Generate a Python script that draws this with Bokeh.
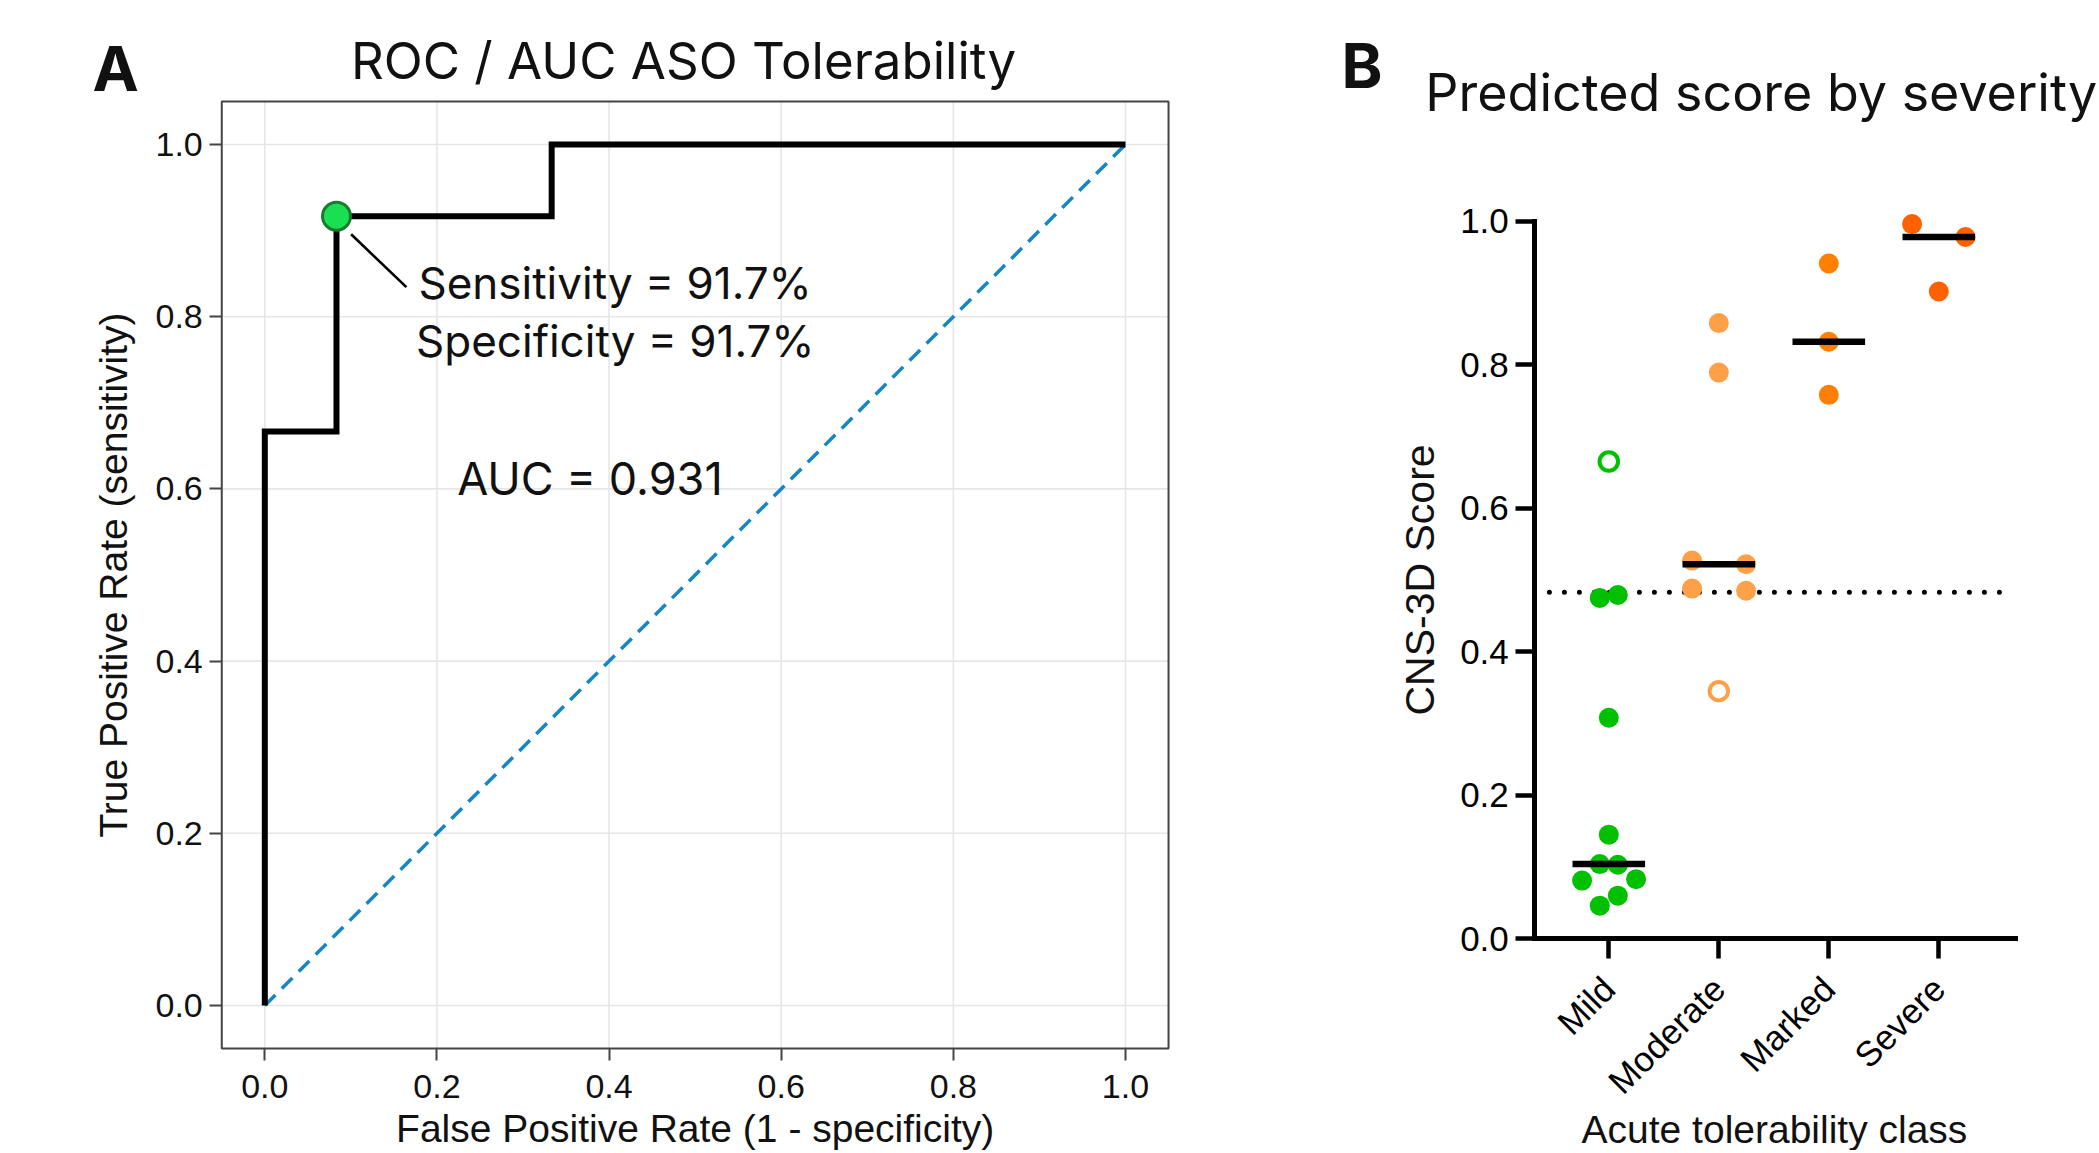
import numpy as np
from math import pi
from bokeh.plotting import figure
from bokeh.layouts import row
from bokeh.models import Range1d, FixedTicker, Label, LinearAxis, NumeralTickFormatter
from bokeh.embed import file_html
from bokeh.resources import INLINE

# ---------------- Panel A data ----------------
roc_fpr = [0.0, 0.0, 0.0833, 0.0833, 0.3333, 0.3333, 1.0]
roc_tpr = [0.0, 0.6667, 0.6667, 0.9167, 0.9167, 1.0, 1.0]
chance_x = [0.0, 1.0]
chance_y = [0.0, 1.0]
opt_fpr = [0.0833]
opt_tpr = [0.9167]
sensitivity_pct = 91.7
specificity_pct = 91.7
auc_value = 0.931
roc_ticks = [0.0, 0.2, 0.4, 0.6, 0.8, 1.0]
roc_limits = (-0.05, 1.05)

# ---------------- Panel B data ----------------
categories = ["Mild", "Moderate", "Marked", "Severe"]
mild_scores = [0.665, 0.479, 0.475, 0.308, 0.145, 0.104, 0.103, 0.083, 0.081, 0.060, 0.046]
mild_xpos = [0.0, 0.082, -0.082, 0.0, 0.0, -0.082, 0.082, 0.248, -0.243, 0.082, -0.082]
mild_open = [True, False, False, False, False, False, False, False, False, False, False]
moderate_scores = [0.858, 0.789, 0.527, 0.522, 0.488, 0.485, 0.345]
moderate_xpos = [0.0, 0.0, -0.243, 0.248, -0.243, 0.248, 0.0]
moderate_open = [False, False, False, False, False, False, True]
marked_scores = [0.941, 0.832, 0.758]
marked_xpos = [0.0, 0.0, 0.0]
marked_open = [False, False, False]
severe_scores = [0.996, 0.978, 0.902]
severe_xpos = [-0.243, 0.243, 0.0]
severe_open = [False, False, False]
threshold = 0.483
score_ticks = [0.0, 0.2, 0.4, 0.6, 0.8, 1.0]
cat_limits = (-0.6727, 3.6973)

group_colors = ["#00c000", "#fda048", "#ff8000", "#ff6100"]

TEXT_FONT = "Inter"
AXIS_FONT = "Liberation Sans"
H = 1150


def lab(p, x, y, text, size, font=TEXT_FONT, align="left", angle=0.0, style="normal", color="#111111"):
    shift = 0.4 * size
    if angle == 0.0:
        xo, yo = 0.0, shift
    else:
        xo, yo = -shift, 0.0
    p.add_layout(Label(x=x, y=y, text=text, text_font=font, text_font_size=f"{size}px",
                       text_align=align, text_baseline="alphabetic", angle=angle,
                       x_offset=xo, y_offset=yo,
                       text_font_style=style, text_color=color))


# ================= Panel A =================
W1 = 1300
p1 = figure(width=W1, height=H, output_backend="svg", toolbar_location=None,
            x_axis_location=None, y_axis_location=None, min_border=0,
            x_range=Range1d(-264.3 / 860.7, (W1 - 264.3) / 860.7),
            y_range=Range1d((1005 - H) / 861.0, 1005 / 861.0))
p1.outline_line_color = None
for g in p1.grid:
    g.visible = False

lo, hi = roc_limits
n = len(roc_ticks)
p1.segment(x0=roc_ticks, y0=[lo] * n, x1=roc_ticks, y1=[hi] * n, line_color="#e6e6e6", line_width=1.6)
p1.segment(x0=[lo] * n, y0=roc_ticks, x1=[hi] * n, y1=roc_ticks, line_color="#e6e6e6", line_width=1.6)
p1.quad(left=[lo], right=[hi], bottom=[lo], top=[hi], fill_color=None,
        line_color="#444444", line_width=2)

xa = LinearAxis(fixed_location=lo)
ya = LinearAxis(fixed_location=lo)
p1.add_layout(xa, "below")
p1.add_layout(ya, "left")
for ax in (xa, ya):
    ax.ticker = FixedTicker(ticks=roc_ticks)
    ax.formatter = NumeralTickFormatter(format="0.0")
    ax.axis_line_color = None
    ax.major_tick_out = 12
    ax.major_tick_in = 0
    ax.minor_tick_line_color = None
    ax.major_tick_line_color = "#444444"
    ax.major_tick_line_width = 2
    ax.major_label_text_font = AXIS_FONT
    ax.major_label_text_font_size = "34px"
    ax.major_label_text_color = "#111111"
xa.major_label_standoff = 14
ya.major_label_standoff = 7

p1.line(chance_x, chance_y, line_color="#1585c6", line_width=3.5, line_dash="15 9")
p1.line(roc_fpr, roc_tpr, line_color="black", line_width=6, line_join="miter")

sens_x, sens_y = 0.1785, 0.8183
lead_x = [opt_fpr[0] + 0.017, sens_x - 0.014]
lead_y = [opt_tpr[0] - 0.021, sens_y + 0.016]
p1.line(lead_x, lead_y, line_color="black", line_width=2.6)
p1.scatter(opt_fpr, opt_tpr, size=28, fill_color="#19e050", line_color="#1b7a2e", line_width=3)

lab(p1, sens_x, sens_y, f"Sensitivity = {sensitivity_pct}%", 44)
lab(p1, 0.1757, 0.7514, f"Specificity = {specificity_pct}%", 44)
lab(p1, 0.2235, 0.591, f"AUC = {auc_value}", 45)
lab(p1, 0.4865, 1.074, "ROC / AUC ASO Tolerability", 51, align="center")
lab(p1, -0.2002, 1.059, "A", 62, style="bold")
lab(p1, -0.158, 0.5, "True Positive Rate (sensitivity)", 39, font=AXIS_FONT, align="center", angle=pi / 2)
lab(p1, 0.5, -0.1613, "False Positive Rate (1 - specificity)", 39, font=AXIS_FONT, align="center")

# ================= Panel B =================
W2 = 799
x0px = 1608.3 - W1
p2 = figure(width=W2, height=H, output_backend="svg", toolbar_location=None,
            x_axis_location=None, y_axis_location=None, min_border=0,
            x_range=Range1d(-x0px / 110.0, (W2 - x0px) / 110.0),
            y_range=Range1d((938.2 - H) / 717.5, 938.2 / 717.5))
p2.outline_line_color = None
for g in p2.grid:
    g.visible = False

cat_idx = list(range(len(categories)))
bxa = LinearAxis(fixed_location=0.0, bounds=cat_limits)
bya = LinearAxis(fixed_location=cat_limits[0], bounds=(0, 1))
p2.add_layout(bxa, "below")
p2.add_layout(bya, "left")
for ax in (bxa, bya):
    ax.axis_line_color = "black"
    ax.axis_line_width = 5
    ax.axis_line_cap = "square"
    ax.major_tick_line_color = "black"
    ax.major_tick_line_width = 4.5
    ax.major_tick_in = 0
    ax.minor_tick_line_color = None
    ax.major_label_text_font = AXIS_FONT
    ax.major_label_text_font_size = "35px"
    ax.major_label_text_color = "black"
bya.ticker = FixedTicker(ticks=score_ticks)
bya.formatter = NumeralTickFormatter(format="0.0")
bya.major_tick_out = 19
bya.major_label_standoff = 7
bxa.ticker = FixedTicker(ticks=cat_idx)
bxa.major_label_overrides = {i: c for i, c in zip(cat_idx, categories)}
bxa.major_label_orientation = pi / 4
bxa.major_tick_out = 20
bxa.major_label_standoff = 24

# threshold dotted line
p2.line([-0.54, 3.60], [threshold, threshold], line_color="black", line_width=5,
        line_dash="0 15", line_cap="round")

groups = [(mild_scores, mild_xpos, mild_open),
          (moderate_scores, moderate_xpos, moderate_open),
          (marked_scores, marked_xpos, marked_open),
          (severe_scores, severe_xpos, severe_open)]
for gi, (scores, xpos, opens) in enumerate(groups):
    col = group_colors[gi]
    fx = [gi + o for o, h in zip(xpos, opens) if not h]
    fy = [s for s, h in zip(scores, opens) if not h]
    hx = [gi + o for o, h in zip(xpos, opens) if h]
    hy = [s for s, h in zip(scores, opens) if h]
    if fx:
        p2.scatter(fx, fy, size=20, fill_color=col, line_color=None)
    if hx:
        p2.scatter(hx, hy, size=18.5, fill_color="white", line_color=col, line_width=4)

medians = [float(np.median(g[0])) for g in groups]
p2.segment(x0=[i - 0.33 for i in cat_idx], y0=medians, x1=[i + 0.33 for i in cat_idx], y1=medians,
           line_color="black", line_width=6.5, line_cap="butt")

lab(p2, -2.43, 1.1825, "B", 62, style="bold")
lab(p2, -1.668, 1.150, "Predicted score by severity", 52)
lab(p2, -1.566, 0.5, "CNS-3D Score", 41, font=AXIS_FONT, align="center", angle=pi / 2)
lab(p2, 1.506, -0.287, "Acute tolerability class", 39, font=AXIS_FONT, align="center")

layout = row(p1, p2)
open("out.html", "w").write(file_html(layout, INLINE))
